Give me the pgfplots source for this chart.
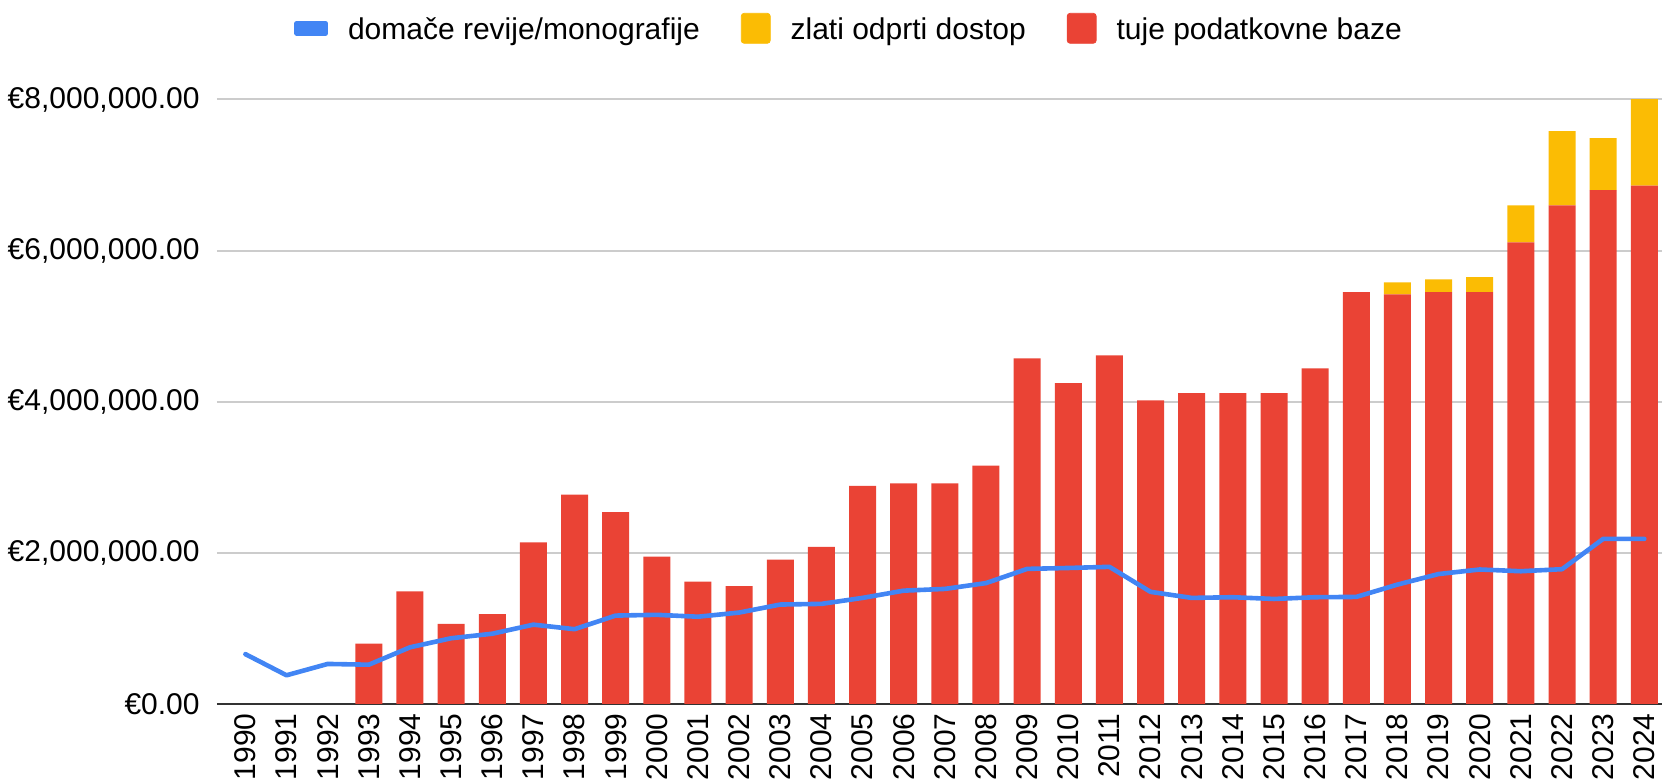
\documentclass[border=0pt]{standalone}
\usepackage{pgfplots}
\usepackage{pgfplotstable}
\pgfplotsset{compat=1.18}
\usepackage{fontspec}
\setmainfont{Liberation Sans}
\definecolor{cred}{HTML}{EA4335}
\definecolor{cgold}{HTML}{FBBC04}
\definecolor{cblue}{HTML}{4285F4}
\definecolor{cgrid}{HTML}{CCCCCC}
\definecolor{cbase}{HTML}{333333}
\pgfplotstableread{
year red gold dom
1990 0 0 660000
1991 0 0 380000
1992 0 0 530000
1993 800000 0 520000
1994 1490000 0 750000
1995 1060000 0 870000
1996 1190000 0 930000
1997 2140000 0 1050000
1998 2770000 0 990000
1999 2540000 0 1170000
2000 1950000 0 1180000
2001 1620000 0 1155000
2002 1560000 0 1210000
2003 1910000 0 1316000
2004 2080000 0 1325000
2005 2888000 0 1404000
2006 2919000 0 1500000
2007 2919000 0 1523000
2008 3153000 0 1600000
2009 4574000 0 1788000
2010 4247000 0 1800000
2011 4613000 0 1815000
2012 4018000 0 1484000
2013 4115000 0 1404000
2014 4115000 0 1413000
2015 4115000 0 1390000
2016 4440000 0 1413000
2017 5450000 0 1417000
2018 5420000 160000 1580000
2019 5450000 170000 1720000
2020 5450000 200000 1780000
2021 6110000 490000 1757000
2022 6600000 980000 1784000
2023 6800000 690000 2185000
2024 6860000 1300000 2185000
}\datatable
\pgfplotsset{
  common/.style={
    scale only axis, width=722.5pt, height=302.25pt,
    xmin=1989.31, xmax=2024.43, ymin=0, ymax=8000000,
  }
}
\begin{document}
\begin{tikzpicture}
\begin{axis}[common, name=ax,
  ybar stacked, bar width=13.5pt,
  axis lines*=left,
  y axis line style={draw=none},
  x axis line style={draw=cbase, line width=1.2pt},
  major tick length=0pt,
  ymajorgrids, grid style={draw=cgrid, line width=1pt},
  ytick={0,2000000,4000000,6000000,8000000},
  yticklabels={{€0.00},{€2,000,000.00},{€4,000,000.00},{€6,000,000.00},{€8,000,000.00}},
  scaled y ticks=false,
  xtick={1990,1991,...,2024},
  tick label style={font=\fontsize{15}{18}\selectfont},
  x tick label style={/pgf/number format/1000 sep={}, /pgf/number format/assume math mode=true, rotate=90, anchor=east, inner sep=0pt},
  xticklabel shift=4.5pt,
  y tick label style={inner sep=0pt},
  yticklabel shift=8.5pt,
]
\addplot[fill=cred, draw=none] table[x=year, y=red] {\datatable};
\addplot[fill=cgold, draw=none] table[x=year, y=gold] {\datatable};
\end{axis}
\begin{axis}[common, hide axis,
  legend columns=3,
  legend style={at={(0.0533,1.1178)}, anchor=west, draw=none, fill=none,
    inner xsep=0pt, inner ysep=0pt,
    nodes={inner sep=0pt, text depth=0pt},
    font=\fontsize{15}{18}\selectfont,
    /tikz/every odd column/.style={column sep=10pt},
    /tikz/every even column/.style={column sep=20.5pt}},
  legend cell align=left,
]
\addplot[cblue, line width=2.3pt, line join=round, line cap=round,
  legend image code/.code={\fill[cblue] (0pt,-2.5pt) rectangle (14.5pt,2.5pt);}]
  table[x=year, y=dom] {\datatable};
\addlegendentry{domače revije/monografije}
\addlegendimage{legend image code/.code={\fill[cgold, rounded corners=1.5pt] (0pt,-7.5pt) rectangle (14.5pt,7.5pt);}}
\addlegendentry{zlati odprti dostop}
\addlegendimage{legend image code/.code={\fill[cred, rounded corners=1.5pt] (0pt,-7.5pt) rectangle (14.5pt,7.5pt);}}
\addlegendentry{tuje podatkovne baze}
\end{axis}
\pgfresetboundingbox
\path[use as bounding box] ([xshift=-108.5pt,yshift=-38.5pt]ax.south west) rectangle ([yshift=49.75pt]ax.north east);
\end{tikzpicture}
\end{document}
